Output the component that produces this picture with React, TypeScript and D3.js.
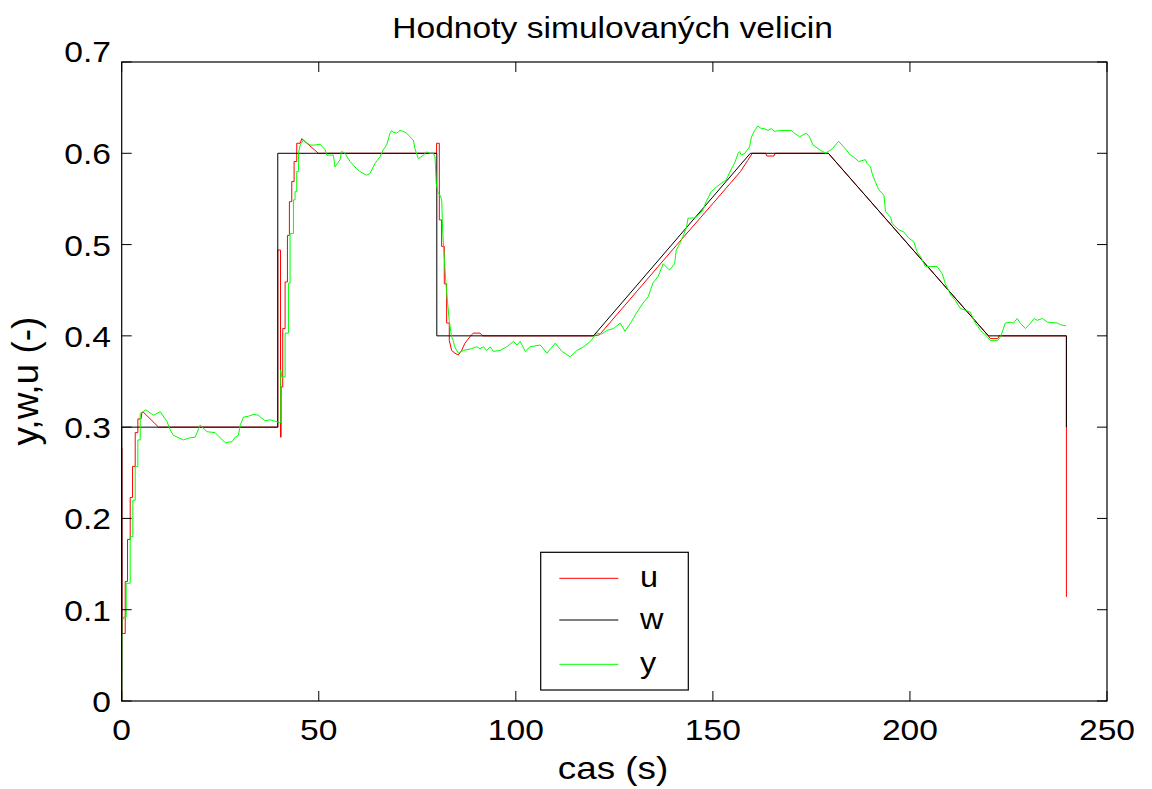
import React from "react";
import * as d3 from "d3";

// ---- data ----
const wTime = [0, 0, 39.6, 39.6, 79.95, 79.95, 119.7, 159.5, 179.3, 219.9, 239.7, 239.7];
const wVal = [0, 0.3, 0.3, 0.6, 0.6, 0.4, 0.4, 0.6, 0.6, 0.4, 0.4, 0.3];

const uTime = [
  0, 0, 0.05, 0.89, 0.89, 1.48, 1.48, 2.16, 2.16, 2.75, 2.75, 3.43, 3.43, 4.1, 4.1, 4.9, 5.12, 5.6, 9.35,
  39.6, 39.6, 40.3, 40.3, 40.45, 40.45, 40.86, 40.86, 41.46, 41.46, 42.05, 42.05, 42.55, 42.55, 43.15, 43.15,
  43.74, 43.74, 44.41, 44.41, 45.3, 45.68, 49.9,
  79.9, 79.9, 80.59, 80.59, 81.18, 81.18, 81.85, 81.85, 82.45, 82.45, 83.12, 83.12, 83.71, 84.56, 85.4,
  86.25, 87.09, 88.36, 89.2, 90.9, 91.57,
  119.6, 121.2, 140.7, 150, 157, 158.8, 160, 163.4, 163.7, 165.5, 165.8, 179.3,
  219.9, 220.4, 222.3, 222.6, 239.7, 239.7,
];
const uVal = [
  0, 0.277, 0.074, 0.074, 0.131, 0.131, 0.177, 0.177, 0.223, 0.223, 0.257, 0.257, 0.294, 0.294, 0.309, 0.309, 0.316, 0.316, 0.3,
  0.3, 0.494, 0.494, 0.289, 0.289, 0.344, 0.344, 0.408, 0.408, 0.459, 0.459, 0.51, 0.51, 0.547, 0.547, 0.569,
  0.569, 0.591, 0.591, 0.611, 0.611, 0.616, 0.6,
  0.6, 0.611, 0.611, 0.527, 0.527, 0.498, 0.498, 0.457, 0.457, 0.414, 0.414, 0.395, 0.384, 0.381, 0.379,
  0.384, 0.392, 0.399, 0.403, 0.403, 0.4,
  0.4, 0.401, 0.499, 0.545, 0.58, 0.592, 0.6, 0.6, 0.597, 0.597, 0.6, 0.6,
  0.4, 0.397, 0.397, 0.4, 0.4, 0.114,
];

const yTime = [
  0, 0.04, 0.3, 0.5, 1.14, 1.14, 2.16, 2.16, 2.83, 2.83, 3.43, 3.43, 4.1, 4.1, 4.7, 4.7, 6.13, 8.08, 9.77,
  11.5, 12.3, 13.1, 15.7, 17.0, 18.65, 19.9, 21.6, 23.7, 24.6, 26.3, 28.0, 28.8, 29.6, 30.1, 30.9, 32.2,
  33.5, 34.7, 35.2, 36.4, 37.7, 38.5, 39.4, 40.0, 40.36, 40.36, 40.61, 41.46, 41.46, 42.3, 42.3, 42.72,
  42.72, 43.57, 43.57, 43.99, 43.99, 44.41, 44.41, 44.84, 44.84, 45.26, 46.1, 47.79, 49.06, 50.33, 51.6,
  52.02, 53.71, 54.13, 55.4, 55.82, 56.67, 57.94, 59.63, 60.47, 62.16, 63.01, 64.27, 65.54, 66.39, 67.23,
  68.08, 68.5, 68.92, 69.77, 70.61, 71.46, 72.3, 73.15, 73.99, 74.42, 75.26, 76.53, 77.37, 78.22, 79.1,
  79.5, 79.8, 80.3, 80.8, 81.2, 81.4, 81.8, 82.4, 83.1, 83.7, 84.1, 84.5, 85.4, 86.7, 88.8, 90.1, 90.9,
  91.8, 92.6, 93.5, 94.3, 96.0, 97.7, 99.4, 100.3, 101.1, 102.4, 103.6, 106.2, 107.9, 110.0, 111.7, 113.8,
  115.5, 117.2, 118.9, 120.6, 121.8, 123.1, 124.8, 126.5, 127.7, 129.4, 130.6, 132.3, 133.6, 134.8, 136.1,
  137.4, 139.0, 140.3, 140.7, 141.6, 142.4, 143.3, 143.7, 145.4, 146.2, 147.5, 148.3, 149.6, 150.9, 152.1,
  153.4, 154.7, 155.5, 156.4, 156.8, 157.2, 158.1, 159.3, 159.8, 160.6, 161.4, 162.3, 163.1, 164.0, 164.8,
  165.7, 166.9, 169.9, 170.7, 172.0, 172.8, 173.7, 174.5, 175.4, 177.1, 178.6, 180.3, 181.9, 183.2, 184.9,
  185.7, 187.0, 188.7, 189.1, 190.0, 190.4, 191.2, 192.1, 193.4, 193.8, 195.1, 195.5, 197.2, 198.4, 199.7,
  201.0, 201.8, 202.7, 203.9, 205.2, 206.9, 208.2, 209.0, 210.3, 211.5, 212.8, 214.1, 215.3, 216.6, 217.9,
  219.6, 220.4, 222.3, 223.0, 224.2, 225.5, 226.3, 227.2, 228.0, 229.3, 230.6, 231.5, 232.3, 233.6, 234.9,
  237.4, 238.3, 239.6,
];
const yVal = [
  0, 0.089, 0.089, 0.092, 0.092, 0.129, 0.129, 0.18, 0.18, 0.22, 0.22, 0.257, 0.257, 0.286, 0.286, 0.315, 0.319, 0.313, 0.317,
  0.306, 0.297, 0.291, 0.286, 0.288, 0.289, 0.3025, 0.295, 0.294, 0.29, 0.283, 0.284, 0.289, 0.291, 0.3025, 0.311, 0.312,
  0.314, 0.313, 0.311, 0.307, 0.308, 0.307, 0.306, 0.305, 0.305, 0.3625, 0.355, 0.355, 0.403, 0.403, 0.4575, 0.4575,
  0.512, 0.512, 0.549, 0.549, 0.558, 0.558, 0.58, 0.58, 0.6, 0.609, 0.6145, 0.609, 0.609, 0.61, 0.604,
  0.598, 0.598, 0.585, 0.593, 0.602, 0.6, 0.591, 0.583, 0.58, 0.576, 0.578, 0.589, 0.596, 0.604, 0.609,
  0.622, 0.625, 0.623, 0.622, 0.625, 0.624, 0.622, 0.618, 0.6145, 0.605, 0.594, 0.598, 0.6015, 0.6, 0.6,
  0.596, 0.567, 0.556, 0.554, 0.549, 0.519, 0.488, 0.45, 0.417, 0.399, 0.395, 0.388, 0.381, 0.384, 0.386, 0.388, 0.386,
  0.388, 0.384, 0.388, 0.383, 0.384, 0.388, 0.394, 0.39, 0.394, 0.383, 0.388, 0.39, 0.381, 0.392, 0.383, 0.377,
  0.384, 0.388, 0.394, 0.403, 0.402, 0.406, 0.408, 0.414, 0.405, 0.416, 0.425, 0.436, 0.443, 0.458, 0.465,
  0.479, 0.472, 0.479, 0.494, 0.501, 0.509, 0.519, 0.529, 0.529, 0.532, 0.538, 0.547, 0.558, 0.563, 0.567,
  0.571, 0.583, 0.589, 0.6, 0.602, 0.598, 0.6, 0.607, 0.618, 0.625, 0.63, 0.627, 0.627, 0.625, 0.627,
  0.624, 0.625, 0.625, 0.622, 0.618, 0.62, 0.622, 0.618, 0.609, 0.604, 0.6, 0.605, 0.613, 0.607, 0.598,
  0.596, 0.591, 0.593, 0.589, 0.585, 0.578, 0.569, 0.56, 0.554, 0.536, 0.53, 0.523, 0.516, 0.514, 0.507,
  0.503, 0.492, 0.487, 0.476, 0.476, 0.476, 0.468, 0.457, 0.445, 0.439, 0.43, 0.428, 0.426, 0.414, 0.406,
  0.399, 0.395, 0.395, 0.399, 0.414, 0.415, 0.414, 0.419, 0.414, 0.408, 0.414, 0.419, 0.417, 0.419, 0.415,
  0.414, 0.412, 0.411,
];

const xTicks = [0, 50, 100, 150, 200, 250];
const yTicks = [0, 0.1, 0.2, 0.3, 0.4, 0.5, 0.6, 0.7];

const series = [
  { name: "u", time: uTime, val: uVal, color: "#ff0000" },
  { name: "w", time: wTime, val: wVal, color: "#000000" },
  { name: "y", time: yTime, val: yVal, color: "#00ff00" },
];

const W = 1152;
const H = 789;
const FONT = "'Liberation Sans', Arial, Helvetica, sans-serif";
const SX = 1.12; // horizontal stretch of the text glyphs seen in the reference

export default function App() {
  const x = d3.scaleLinear().domain([0, 250]).range([121.7, 1107]);
  const y = d3.scaleLinear().domain([0, 0.7]).range([701, 62]);
  const line = d3
    .line<[number, number]>()
    .x((d) => x(d[0]))
    .y((d) => y(d[1]));
  const [x0, x1] = x.range();
  const [y0, y1] = y.range();
  const tickLen = 10;
  const fmtY = (v: number) => (v === 0 ? "0" : d3.format(".1f")(v));

  const lg = { x: 540.7, y: 552.3, w: 147.6, h: 137.7 };
  const lgRows = [578.3, 620, 664.3];

  return (
    <svg
      width={W}
      height={H}
      style={{ position: "absolute", left: 0, top: 0, display: "block", background: "#fff" }}
      fontFamily={FONT}
    >
      <rect x={0} y={0} width={W} height={H} fill="#fff" />
      <g>
        {series.map((s) => (
          <path
            key={s.name}
            d={line(s.time.map((t, i) => [t, s.val[i]] as [number, number])) || ""}
            fill="none"
            stroke={s.color}
            strokeWidth={1}
          />
        ))}
      </g>
      {/* axes box */}
      <rect x={x0} y={y1} width={x1 - x0} height={y0 - y1} fill="none" stroke="#000" strokeWidth={1.2} />
      {xTicks.map((t) => (
        <g key={"xt" + t}>
          <line x1={x(t)} x2={x(t)} y1={y0} y2={y0 - tickLen} stroke="#000" />
          <line x1={x(t)} x2={x(t)} y1={y1} y2={y1 + tickLen} stroke="#000" />
          <text
            transform={`translate(${x(t)},740) scale(${SX},1)`}
            textAnchor="middle"
            fontSize={30}
            fill="#000"
          >
            {t}
          </text>
        </g>
      ))}
      {yTicks.map((t) => (
        <g key={"yt" + t}>
          <line x1={x0} x2={x0 + tickLen} y1={y(t)} y2={y(t)} stroke="#000" />
          <line x1={x1} x2={x1 - tickLen} y1={y(t)} y2={y(t)} stroke="#000" />
          <text
            transform={`translate(111,${t === 0.7 ? y(t) : y(t) + 11}) scale(${SX},1)`}
            textAnchor="end"
            fontSize={30}
            fill="#000"
          >
            {fmtY(t)}
          </text>
        </g>
      ))}
      <text
        transform={`translate(612.5,38) scale(${SX},1)`}
        textAnchor="middle"
        fontSize={30}
        fill="#000"
      >
        Hodnoty simulovaných velicin
      </text>
      <text
        transform={`translate(613,779) scale(1.15,1)`}
        textAnchor="middle"
        fontSize={32}
        fill="#000"
      >
        cas (s)
      </text>
      <text transform={`translate(38, 381) rotate(-90)`} textAnchor="middle" fontSize={37} fill="#000">
        y,w,u (-)
      </text>
      {/* legend */}
      <rect x={lg.x} y={lg.y} width={lg.w} height={lg.h} fill="#fff" stroke="#000" strokeWidth={1.2} />
      {series.map((s, i) => (
        <g key={"lg" + s.name}>
          <line x1={559.3} x2={618.3} y1={lgRows[i]} y2={lgRows[i]} stroke={s.color} strokeWidth={1} />
          <text transform={`translate(640,${lgRows[i] + 9}) scale(1.08,1)`} fontSize={30} fill="#000">
            {s.name}
          </text>
        </g>
      ))}
    </svg>
  );
}
